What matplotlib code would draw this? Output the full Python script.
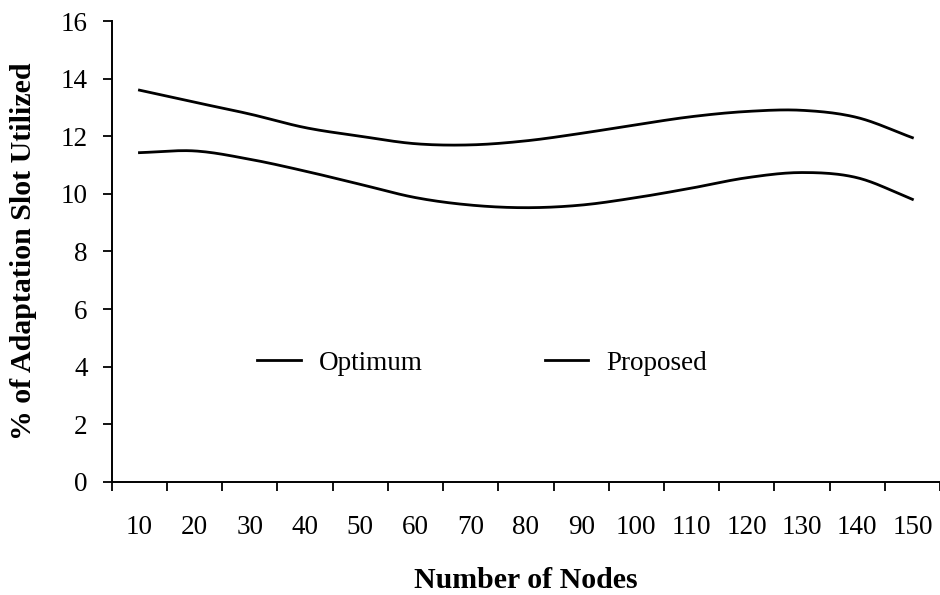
import numpy as np
import matplotlib
matplotlib.use("Agg")
import matplotlib.pyplot as plt

nodes = [10, 20, 30, 40, 50, 60, 70, 80, 90, 100, 110, 120, 130, 140, 150]
proposed = [13.6, 13.18, 12.77, 12.3, 12.0, 11.74, 11.7, 11.84, 12.1, 12.4, 12.68, 12.86, 12.9, 12.65, 11.95]
optimum = [11.43, 11.49, 11.2, 10.79, 10.33, 9.87, 9.61, 9.52, 9.61, 9.87, 10.2, 10.56, 10.74, 10.56, 9.81]
yticks = [0, 2, 4, 6, 8, 10, 12, 14, 16]


def smooth(xs, ys, n=20):
    """Catmull-Rom smoothing (like a spreadsheet's smoothed line)."""
    xs = np.asarray(xs, float)
    ys = np.asarray(ys, float)
    px = np.concatenate([[2 * xs[0] - xs[1]], xs, [2 * xs[-1] - xs[-2]]])
    py = np.concatenate([[2 * ys[0] - ys[1]], ys, [2 * ys[-1] - ys[-2]]])
    outx, outy = [], []
    t = np.linspace(0, 1, n, endpoint=False)
    for i in range(1, len(px) - 2):
        for arr, out in ((px, outx), (py, outy)):
            p0, p1, p2, p3 = arr[i - 1], arr[i], arr[i + 1], arr[i + 2]
            out.extend(0.5 * ((2 * p1) + (-p0 + p2) * t
                              + (2 * p0 - 5 * p1 + 4 * p2 - p3) * t ** 2
                              + (-p0 + 3 * p1 - 3 * p2 + p3) * t ** 3))
    outx.append(xs[-1])
    outy.append(ys[-1])
    return np.array(outx), np.array(outy)


plt.rcParams['font.family'] = ['Liberation Serif', 'DejaVu Serif']

fig = plt.figure(figsize=(9.4, 5.95), dpi=100)
ax = fig.add_axes([0.119, 0.19, 0.881, 0.7747])

idx = np.arange(len(nodes))
sx, sy = smooth(idx, optimum)
ax.plot(sx, sy, color='black', lw=2.0, label='Optimum')
sx, sy = smooth(idx, proposed)
ax.plot(sx, sy, color='black', lw=2.0, label='Proposed')

ax.set_xlim(-0.5, len(nodes) - 0.5)
ax.set_ylim(0, 16)
ax.set_yticks(yticks)
ax.set_yticklabels([str(v) for v in yticks], fontsize=19.5)
ax.set_xticks(idx)
ax.set_xticklabels([str(v) for v in nodes], fontsize=19.5)
ax.set_xticks(np.arange(-0.5, len(nodes)), minor=True)
ax.tick_params(axis='x', which='major', length=0, pad=24)
ax.tick_params(axis='x', which='minor', length=6.5, width=1.3, direction='out')
ax.tick_params(axis='y', which='major', length=6.5, width=1.3, direction='out', pad=11)

for s in ('top', 'right'):
    ax.spines[s].set_visible(False)
for s in ('left', 'bottom'):
    ax.spines[s].set_linewidth(1.4)

ax.set_ylabel('% of Adaptation Slot Utilized', fontsize=21.5, fontweight='bold', labelpad=17)
ax.set_xlabel('Number of Nodes', fontsize=21.5, fontweight='bold', labelpad=19)

ax.legend(loc='center', bbox_to_anchor=(0.447, 0.258), ncol=2, frameon=False,
          fontsize=19.5, handlelength=1.6, columnspacing=4.5, handletextpad=0.67)

fig.savefig('out.png', dpi=100)
